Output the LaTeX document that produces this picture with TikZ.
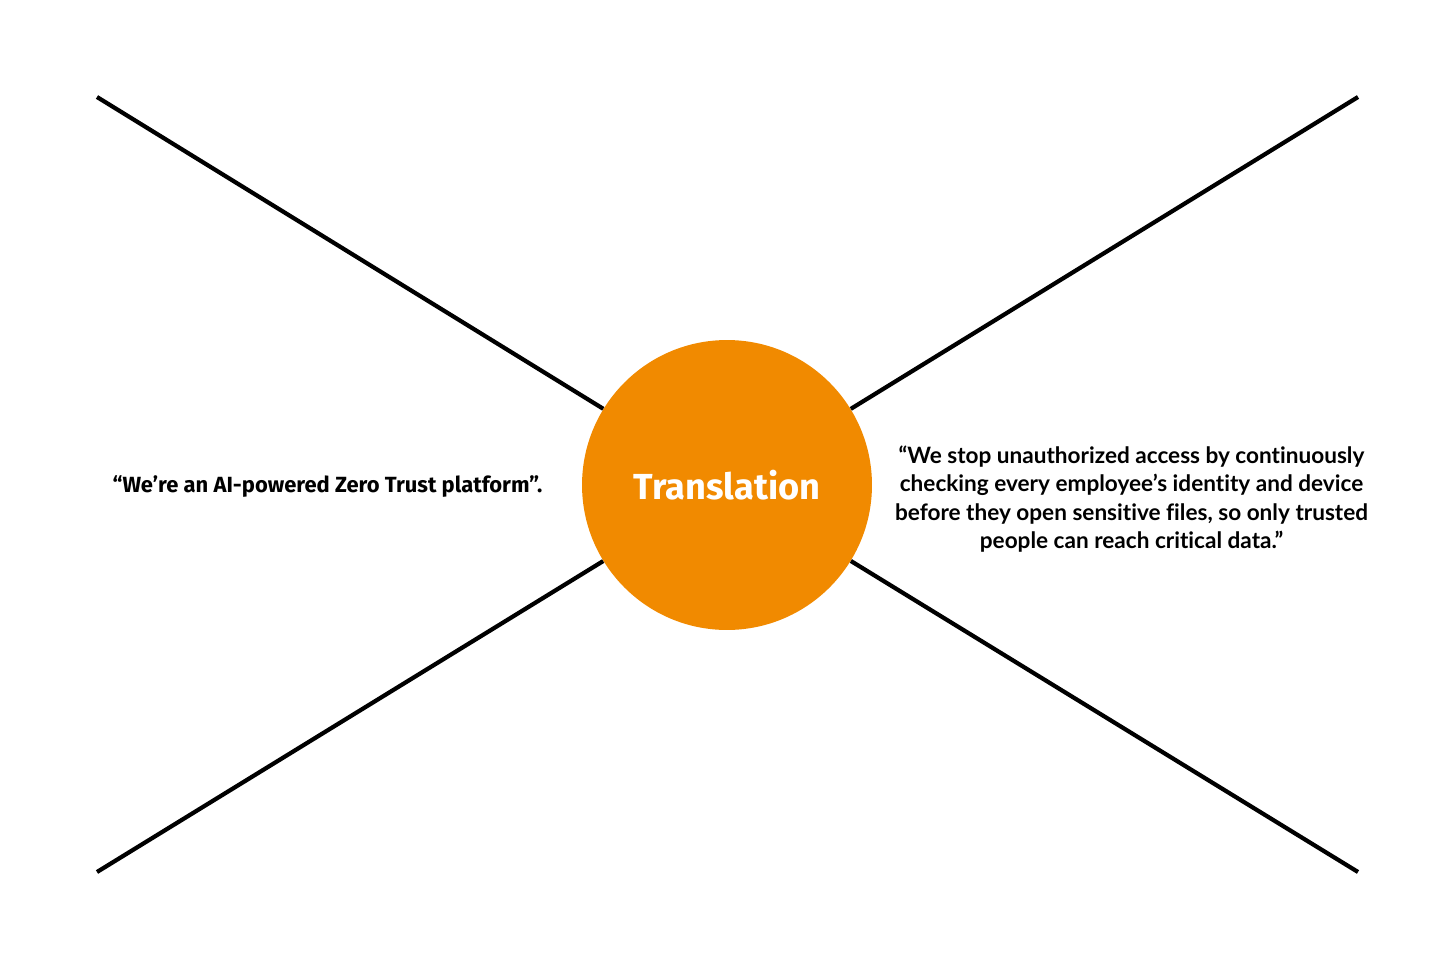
\documentclass[tikz,border=0pt]{standalone}
\usepackage{fontspec}
\setmainfont{Fira Sans}
\newfontfamily\quotefont[Ligatures=NoCommon]{Lato}
\usetikzlibrary{calc}
\definecolor{transorange}{HTML}{F18A00}

\begin{document}
\begin{tikzpicture}[x=0.02cm, y=-0.02cm, line join=round]
  % Canvas (1456 x 970 px, y grows downwards)
  \useasboundingbox (0,0) rectangle (1456,970);

  % Corners where the four arms start
  \coordinate (tl) at (97,97);     % top-left
  \coordinate (tr) at (1358,97);   % top-right
  \coordinate (bl) at (97,872);    % bottom-left
  \coordinate (br) at (1358,872);  % bottom-right

  % Central circle
  \node[circle, fill=transorange, minimum size=5.8cm, inner sep=0pt,
        text=white, font=\bfseries\fontsize{20.6}{24}\selectfont]
        (trans) at (727,485) {Translation};

  % Arms from the corners to the circle
  \draw[line width=2.4pt] (tl) -- (trans);
  \draw[line width=2.4pt] (tr) -- (trans);
  \draw[line width=2.4pt] (bl) -- (trans);
  \draw[line width=2.4pt] (br) -- (trans);

  % Left quote (before)
  \node[font=\bfseries\fontsize{12.5}{15}\selectfont] (before) at (327.5,487)
        {“We’re an AI-powered Zero Trust platform”.};

  % Right quote (after)
  \node[align=center, font=\quotefont\bfseries\fontsize{12.85}{16.2}\selectfont]
        (after) at (1131.5,499)
        {“We stop unauthorized access by continuously\\
         checking every employee’s identity and device\\
         before they open sensitive files, so only trusted\\
         people can reach critical data.”};
\end{tikzpicture}
\end{document}
